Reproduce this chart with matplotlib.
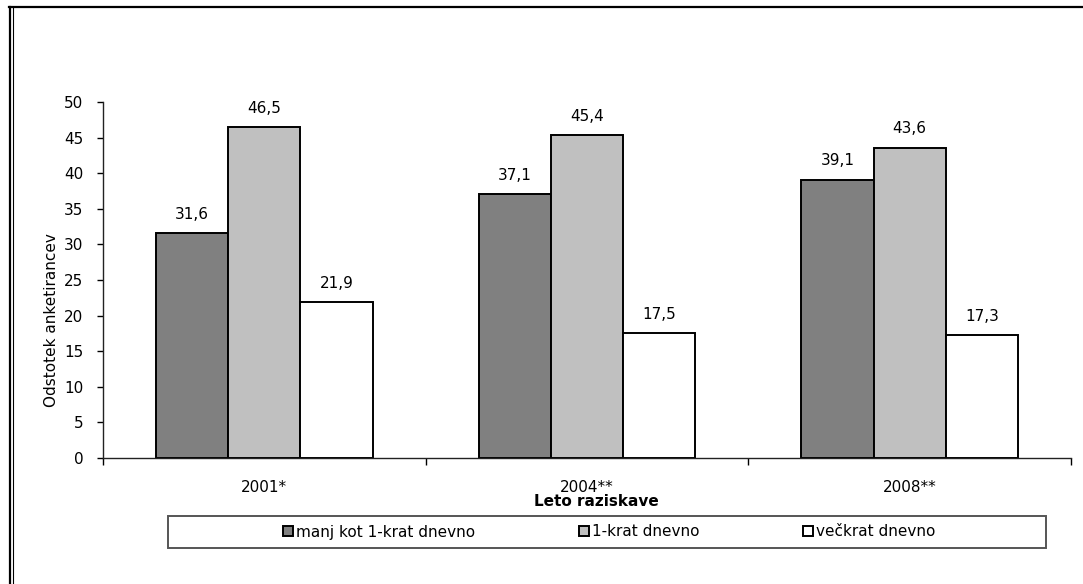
import matplotlib
matplotlib.use("Agg")
import matplotlib.pyplot as plt
from matplotlib.patches import Rectangle, Patch
from matplotlib.lines import Line2D
import numpy as np

# Survey years and shares of respondents (%)
years = ["2001*", "2004**", "2008**"]
series_names = ["manj kot 1-krat dnevno", "1-krat dnevno", "večkrat dnevno"]
manj_kot_1krat = [31.6, 37.1, 39.1]
enkrat_dnevno = [46.5, 45.4, 43.6]
veckrat_dnevno = [21.9, 17.5, 17.3]
series_values = [manj_kot_1krat, enkrat_dnevno, veckrat_dnevno]
series_colors = ["#808080", "#C0C0C0", "#FFFFFF"]

y_ticks = list(range(0, 51, 5))

plt.rcParams["font.family"] = ["DejaVu Sans"]
plt.rcParams["font.size"] = 11

W, H = 1083, 584
fig = plt.figure(figsize=(W / 100, H / 100), dpi=100)
fig.patch.set_facecolor("white")

ax = fig.add_axes([103 / W, 1 - 458 / H, (1071 - 103) / W, (458 - 102) / H])

x = np.arange(len(years))
bar_w = 0.224
for i, (vals, col) in enumerate(zip(series_values, series_colors)):
    pos = x + (i - 1) * bar_w
    bars = ax.bar(pos, vals, width=bar_w, color=col, edgecolor="black",
                  linewidth=1.4, zorder=2)
    for b, v in zip(bars, vals):
        ax.annotate(f"{v:.1f}".replace(".", ","),
                    (b.get_x() + b.get_width() / 2, v),
                    xytext=(0, 8), textcoords="offset points",
                    ha="center", va="bottom", fontsize=11)

ax.set_xlim(-0.5, len(years) - 0.5)
ax.set_ylim(0, 50)
ax.set_yticks(y_ticks)
ax.tick_params(axis="y", direction="out", length=4, width=1, pad=10,
               labelsize=11)

# category boundaries carry the tick marks, labels sit at the centres
ax.set_xticks(np.arange(-0.5, len(years), 1.0))
ax.set_xticklabels([])
ax.tick_params(axis="x", which="major", direction="out", length=5, width=1)
ax.set_xticks(x, minor=True)
ax.set_xticklabels(years, minor=True, fontsize=11)
ax.tick_params(axis="x", which="minor", length=0, pad=16)

for s in ("top", "right"):
    ax.spines[s].set_visible(False)
for s in ("left", "bottom"):
    ax.spines[s].set_linewidth(1)
    ax.spines[s].set_color("#222222")

fig.text(52 / W, 1 - 320 / H, "Odstotek anketirancev", rotation=90,
         ha="center", va="center", fontsize=11)
fig.text(596 / W, 1 - 502 / H, "Leto raziskave", ha="center", va="center",
         fontsize=11, fontweight="bold")

# legend frame and entries
fig.patches.append(Rectangle((168 / W, 1 - 548 / H), (1046 - 168) / W,
                             (548 - 516) / H, transform=fig.transFigure,
                             facecolor="white", edgecolor="#555555",
                             linewidth=1.4, zorder=1))
handles = [Patch(facecolor=c, edgecolor="black", linewidth=1.4)
           for c in series_colors]
fig.legend(handles, series_names, loc="center", ncol=3,
           bbox_to_anchor=(609 / W, 1 - 532 / H), frameon=False,
           handlelength=0.65, handleheight=0.65, handletextpad=0.2,
           columnspacing=6.8, fontsize=11)

# outer frame lines
fig.add_artist(Line2D([9 / W, 1], [1 - 7 / H, 1 - 7 / H],
                      transform=fig.transFigure, color="black", lw=1.6))
fig.add_artist(Line2D([10 / W, 10 / W], [0, 1 - 7 / H],
                      transform=fig.transFigure, color="black", lw=1.6))
fig.add_artist(Line2D([12.8 / W, 12.8 / W], [0, 1 - 8 / H],
                      transform=fig.transFigure, color="black", lw=0.8))

fig.savefig("out.png", dpi=100)
